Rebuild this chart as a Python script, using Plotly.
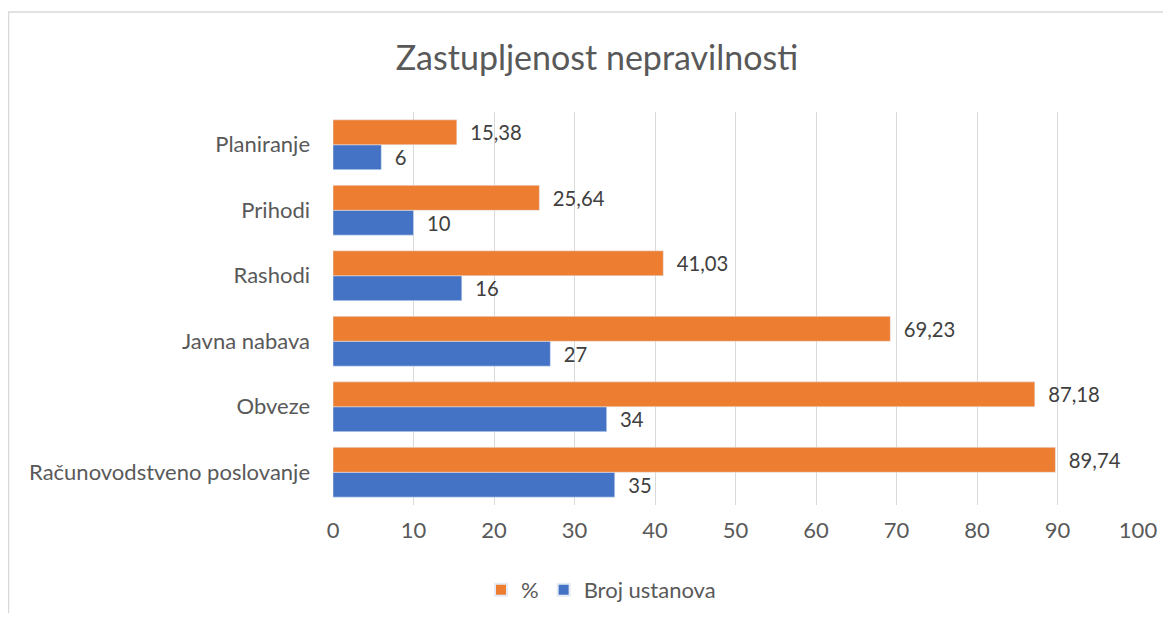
import plotly.graph_objects as go

categories = ["Računovodstveno poslovanje", "Obveze", "Javna nabava", "Rashodi", "Prihodi", "Planiranje"]
pct_values = [89.74, 87.18, 69.23, 41.03, 25.64, 15.38]
count_values = [35, 34, 27, 16, 10, 6]
x_ticks = [0, 10, 20, 30, 40, 50, 60, 70, 80, 90, 100]

FONT = "Lato, 'Open Sans', sans-serif"
FS = 22
OFF = 8  # page body margin
W, H = 1171 - 2 * OFF, 621 - 2 * OFF
L, T = 333 - OFF, 112 - OFF
R = W - (1138 - OFF)
B = H - (505 - OFF)
pw, ph = W - L - R, H - T - B

fig = go.Figure()
fig.add_trace(go.Bar(
    y=categories, x=count_values, orientation="h", name="Broj ustanova",
    marker=dict(color="#4472C4"),
    texttemplate="  %{x}", textposition="outside",
    textfont=dict(size=FS, color="#404040", family=FONT), cliponaxis=False,
))
fig.add_trace(go.Bar(
    y=categories, x=pct_values, orientation="h", name="%",
    marker=dict(color="#ED7D31"),
    texttemplate="  %{x:.2f}", textposition="outside",
    textfont=dict(size=FS, color="#404040", family=FONT), cliponaxis=False,
))

def px_x(p):
    return (p - OFF - L) / pw

def px_y(p):
    return (H - B - (p - OFF)) / ph

fig.update_layout(
    width=W, height=H,
    margin=dict(l=L, r=R, t=T, b=B, autoexpand=False),
    paper_bgcolor="white", plot_bgcolor="white",
    separators=",.",
    barmode="group", bargap=0.24, bargroupgap=0,
    font=dict(family=FONT, color="#595959", size=FS),
    title=dict(text="Zastupljenost nepravilnosti", x=(597 - OFF) / W, xanchor="center",
               y=1 - (58 - OFF) / H, yanchor="middle",
               font=dict(size=34, color="#595959", family=FONT)),
    xaxis=dict(range=[0, 100], tickvals=x_ticks, showgrid=True, gridcolor="#d9d9d9",
               gridwidth=1.3, zeroline=False, showline=False, ticks="", automargin=False,
               ticklabelstandoff=10, tickfont=dict(size=FS, color="#595959")),
    yaxis=dict(showgrid=False, zeroline=False, showline=False, ticks="", automargin=False,
               ticklabelstandoff=22, tickfont=dict(size=FS, color="#595959")),
    legend=dict(orientation="h", x=px_x(601), xanchor="center", y=px_y(590), yanchor="middle",
                traceorder="reversed", font=dict(size=FS, color="#595959"),
                itemwidth=30, itemsizing="constant"),
    showlegend=True,
    shapes=[dict(type="rect", xref="paper", yref="paper",
                 x0=px_x(8.5), x1=px_x(1200), y0=px_y(640), y1=px_y(12),
                 line=dict(color="#d9d9d9", width=1.5), fillcolor="rgba(0,0,0,0)", layer="below")],
)

fig.write_html("out.html")
